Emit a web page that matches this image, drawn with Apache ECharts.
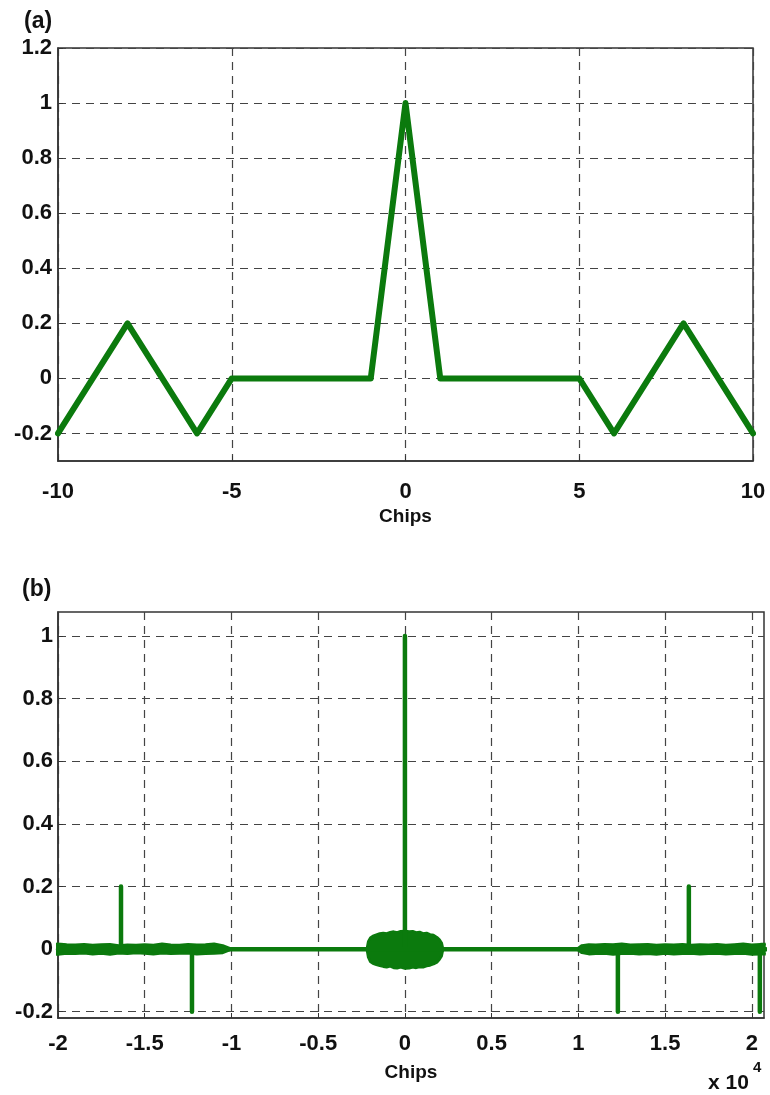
<!DOCTYPE html>
<html>
<head>
<meta charset="utf-8">
<script src="https://cdn.jsdelivr.net/npm/echarts@6/dist/echarts.min.js"></script>
<style>
  html, body { margin: 0; padding: 0; background: #fff; }
  #chart { width: 770px; height: 1095px; }
</style>
</head>
<body>
<div id="chart"></div>
<script>
// ---- Panel (a): autocorrelation over ±10 chips ----
const chipsA = [-10, -8, -6, -5, -1, 0, 1, 5, 6, 8, 10];
const corrA  = [-0.2, 0.2, -0.2, 0, 0, 1, 0, 0, -0.2, 0.2, -0.2];
const xTicksA = [-10, -5, 0, 5, 10];
const yTicksA = [-0.2, 0, 0.2, 0.4, 0.6, 0.8, 1, 1.2];

// ---- Panel (b): full-length correlation (x in samples) ----
const xTicksB = [-20000, -15000, -10000, -5000, 0, 5000, 10000, 15000, 20000];
const yTicksB = [-0.2, 0, 0.2, 0.4, 0.6, 0.8, 1];
// isolated side peaks
const spikeX = [-16368, -12276, 12276, 16368, 20460];
const spikeY = [0.2, -0.2, -0.2, 0.2, -0.2];
// main peak
const peakX = 0;
const peakY = 1;
// ripple envelopes (upper / lower bounds of the residual correlation)
const leftX  = [-20460, -20000, -19500, -19000, -18500, -18000, -17500, -17000, -16500, -16000, -15500, -15000,
                -14500, -14000, -13500, -13000, -12500, -12000, -11500, -11000, -10500, -10100];
const leftUp = [0.016, 0.017, 0.015, 0.014, 0.016, 0.013, 0.015, 0.016, 0.012, 0.014, 0.013, 0.015,
                0.013, 0.017, 0.014, 0.013, 0.016, 0.014, 0.015, 0.017, 0.012, 0.003];
const leftLo = [-0.016, -0.017, -0.014, -0.015, -0.013, -0.016, -0.014, -0.017, -0.013, -0.015, -0.012, -0.014,
                -0.016, -0.013, -0.015, -0.014, -0.013, -0.016, -0.015, -0.014, -0.012, -0.003];
const blobX  = [-2200, -2120, -2000, -1850, -1650, -1450, -1250, -1050, -850, -650, -450, -250, 0,
                250, 450, 650, 850, 1050, 1250, 1450, 1650, 1850, 2000, 2120, 2200];
const blobUp = [0, 0.024, 0.036, 0.042, 0.046, 0.05, 0.052, 0.05, 0.054, 0.056, 0.053, 0.057, 0.058,
                0.056, 0.057, 0.053, 0.055, 0.05, 0.052, 0.047, 0.045, 0.038, 0.03, 0.02, 0];
const blobLo = [0, -0.026, -0.04, -0.046, -0.05, -0.053, -0.056, -0.058, -0.055, -0.06, -0.061, -0.058, -0.062,
                -0.061, -0.058, -0.06, -0.057, -0.058, -0.054, -0.052, -0.048, -0.042, -0.033, -0.022, 0];
const rightX  = [9950, 10200, 10600, 11000, 11500, 12000, 12500, 13000, 13500, 14000, 14500, 15000,
                 15500, 16000, 16500, 17000, 17500, 18000, 18500, 19000, 19500, 20000, 20500, 20800];
const rightUp = [0.002, 0.012, 0.015, 0.014, 0.016, 0.015, 0.017, 0.014, 0.015, 0.016, 0.013, 0.015,
                 0.014, 0.016, 0.013, 0.015, 0.014, 0.016, 0.013, 0.015, 0.017, 0.014, 0.016, 0.016];
const rightLo = [-0.002, -0.012, -0.016, -0.015, -0.014, -0.017, -0.015, -0.014, -0.016, -0.015, -0.017, -0.014,
                 -0.016, -0.015, -0.014, -0.016, -0.015, -0.014, -0.016, -0.015, -0.014, -0.017, -0.016, -0.016];

const GREEN = '#0b7a0d';
const FONT = "'Liberation Sans', Arial, sans-serif";
const NARROW = "'Liberation Sans Narrow', 'Liberation Sans', Arial, sans-serif";

const zip = (xs, ys) => xs.map((x, i) => [x, ys[i]]);

// main trace for (b): baseline with vertical peaks
function buildTraceB() {
  const pts = [[-20000, 0]];
  const all = spikeX.map((x, i) => [x, spikeY[i]]);
  all.push([peakX, peakY]);
  all.sort((a, b) => a[0] - b[0]);
  all.forEach(([x, y]) => { pts.push([x, 0], [x, y], [x, 0]); });
  pts.push([20800, 0]);
  return pts;
}

const fmt1 = v => String(+v.toFixed(1));

const axisCommon = {
  axisLine: { show: true, onZero: false, lineStyle: { color: '#333', width: 1.5 } },
  axisTick: { show: true, inside: true, length: 5, lineStyle: { color: '#333' } },
  splitLine: { show: true, lineStyle: { color: '#444', type: [8, 6], width: 1.2 } },
  axisLabel: { color: '#111', fontFamily: FONT, fontWeight: 'bold', fontSize: 22 }
};

function envSeries(xs, ys, xi) {
  return {
    type: 'line', xAxisIndex: xi, yAxisIndex: xi, data: zip(xs, ys),
    symbol: 'none', silent: true,
    lineStyle: { color: GREEN, width: 2.5 },
    areaStyle: { color: GREEN, opacity: 1, origin: 0 }
  };
}

const nameStyle = { fontFamily: NARROW, fontWeight: 'bold', fontSize: 19, color: '#111' };

const option = {
  animation: false,
  backgroundColor: '#fff',
  grid: [
    { left: 58, top: 48, width: 695, height: 413, show: true, borderColor: '#333', borderWidth: 1.5, containLabel: false },
    { left: 58, top: 612, width: 706, height: 406, show: true, borderColor: '#333', borderWidth: 1.5, containLabel: false }
  ],
  xAxis: [
    Object.assign({}, axisCommon, {
      type: 'value', gridIndex: 0, min: -10, max: 10,
      name: 'Chips', nameLocation: 'middle', nameGap: 46, nameTextStyle: nameStyle,
      axisTick: Object.assign({}, axisCommon.axisTick, { customValues: xTicksA }),
      axisLabel: Object.assign({}, axisCommon.axisLabel, { customValues: xTicksA, margin: 20 })
    }),
    Object.assign({}, axisCommon, {
      type: 'value', gridIndex: 1, min: -20000, max: 20700,
      name: 'Chips', nameLocation: 'middle', nameGap: 45, nameTextStyle: nameStyle,
      axisTick: Object.assign({}, axisCommon.axisTick, { customValues: xTicksB }),
      axisLabel: Object.assign({}, axisCommon.axisLabel, {
        customValues: xTicksB, margin: 15,
        formatter: v => String(+(v / 10000).toFixed(1))
      })
    })
  ],
  yAxis: [
    Object.assign({}, axisCommon, {
      type: 'value', gridIndex: 0, min: -0.3, max: 1.2,
      axisTick: Object.assign({}, axisCommon.axisTick, { customValues: yTicksA }),
      axisLabel: Object.assign({}, axisCommon.axisLabel, { customValues: yTicksA, margin: 6, formatter: fmt1 })
    }),
    Object.assign({}, axisCommon, {
      type: 'value', gridIndex: 1, min: -0.22, max: 1.077,
      axisTick: Object.assign({}, axisCommon.axisTick, { customValues: yTicksB }),
      axisLabel: Object.assign({}, axisCommon.axisLabel, { customValues: yTicksB, margin: 5, formatter: fmt1 })
    })
  ],
  series: [
    {
      type: 'line', xAxisIndex: 0, yAxisIndex: 0, data: zip(chipsA, corrA),
      symbol: 'none', lineStyle: { color: GREEN, width: 6, join: 'round', cap: 'round' }
    },
    envSeries(leftX, leftUp, 1), envSeries(leftX, leftLo, 1),
    envSeries(blobX, blobUp, 1), envSeries(blobX, blobLo, 1),
    envSeries(rightX, rightUp, 1), envSeries(rightX, rightLo, 1),
    {
      type: 'line', xAxisIndex: 1, yAxisIndex: 1, data: buildTraceB(),
      symbol: 'none', lineStyle: { color: GREEN, width: 4.5, cap: 'round', join: 'round' }
    }
  ],
  graphic: [
    { type: 'text', left: 24, top: 10, style: { text: '(a)', font: "bold 23px " + FONT, fill: '#111' } },
    { type: 'text', left: 22, top: 578, style: { text: '(b)', font: "bold 23px " + FONT, fill: '#111' } },
    { type: 'text', left: 708, top: 1073, style: { text: 'x 10', font: "bold 21px " + NARROW, fill: '#111' } },
    { type: 'text', left: 753, top: 1060, style: { text: '4', font: "bold 15px " + NARROW, fill: '#111' } }
  ]
};

const chart = echarts.init(document.getElementById('chart'), null, { renderer: 'canvas' });
chart.setOption(option);
</script>
</body>
</html>
